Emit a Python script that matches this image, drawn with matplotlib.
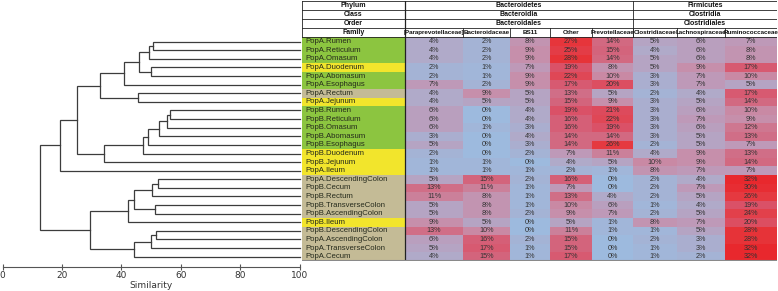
import matplotlib
matplotlib.use('Agg')
import matplotlib.pyplot as plt
from matplotlib.colors import LinearSegmentedColormap, Normalize
from matplotlib.patches import Rectangle

# ---------------- data ----------------
samples = ["PopA.Rumen", "PopA.Reticulum", "PopA.Omasum", "PopA.Duodenum", "PopA.Abomasum",
           "PopA.Esophagus", "PopA.Rectum", "PopA.Jejunum", "PopB.Rumen", "PopB.Reticulum",
           "PopB.Omasum", "PopB.Abomasum", "PopB.Esophagus", "PopB.Duodenum", "PopB.Jejunum",
           "PopA.Ileum", "PopA.DescendingColon", "PopB.Cecum", "PopB.Rectum",
           "PopB.TransverseColon", "PopB.AscendingColon", "PopB.Ileum", "PopB.DescendingColon",
           "PopA.AscendingColon", "PopA.TransverseColon", "PopA.Cecum"]
# gut region of each sample: F = foregut/stomach, S = small intestine, H = hindgut
region = ["F", "F", "F", "S", "F", "F", "H", "S", "F", "F", "F", "F", "F", "S", "S",
          "S", "H", "H", "H", "H", "H", "S", "H", "H", "H", "H"]

header_levels = ["Phylum", "Class", "Order"]
phyla = ["Bacteroidetes", "Firmicutes"]
classes = ["Bacteroidia", "Clostridia"]
orders = ["Bacteroidales", "Clostridiales"]
phylum_span = [5, 3]   # number of families under each phylum
families = ["[Paraprevotellaceae]", "Bacteroidaceae", "BS11", "Other", "Prevotellaceae",
            "Clostridiaceae", "Lachnospiraceae", "Ruminococcaceae"]

paraprevotellaceae = [4, 4, 4, 2, 2, 7, 4, 4, 6, 6, 6, 3, 5, 2, 1, 1, 5, 13, 11, 5, 5, 9, 13, 6, 5, 4]
bacteroidaceae     = [2, 2, 2, 1, 1, 2, 9, 5, 0, 0, 1, 0, 0, 0, 1, 1, 15, 11, 8, 8, 8, 5, 10, 16, 17, 15]
bs11               = [8, 9, 9, 7, 9, 9, 5, 5, 4, 4, 3, 4, 3, 2, 0, 1, 2, 1, 1, 1, 2, 0, 0, 2, 1, 1]
other              = [27, 25, 28, 19, 22, 17, 13, 15, 19, 16, 16, 14, 14, 7, 4, 2, 16, 7, 13, 10, 9, 5, 11, 15, 15, 17]
prevotellaceae     = [14, 15, 14, 8, 10, 20, 5, 9, 21, 22, 19, 14, 26, 11, 5, 1, 0, 0, 4, 6, 7, 1, 1, 0, 0, 0]
clostridiaceae     = [5, 4, 5, 5, 3, 3, 2, 3, 3, 3, 3, 3, 2, 4, 10, 8, 2, 2, 2, 1, 2, 8, 1, 2, 1, 1]
lachnospiraceae    = [6, 6, 6, 9, 7, 7, 4, 5, 6, 7, 6, 5, 5, 9, 9, 7, 4, 7, 5, 4, 5, 7, 5, 3, 3, 2]
ruminococcaceae    = [7, 8, 8, 17, 10, 5, 17, 14, 10, 9, 12, 13, 7, 13, 14, 7, 32, 30, 26, 19, 24, 20, 28, 28, 32, 32]
columns = [paraprevotellaceae, bacteroidaceae, bs11, other, prevotellaceae,
           clostridiaceae, lachnospiraceae, ruminococcaceae]

# dendrogram merges: (child a, child b, similarity); new node ids start at len(samples)
merges = [(0, 1, 50.8), (26, 2, 49.2), (3, 4, 49.8), (27, 28, 45.8), (29, 5, 41.0),
          (6, 7, 45.6), (30, 31, 32.9), (8, 9, 56.2), (33, 10, 55.4), (34, 11, 52.8),
          (35, 12, 49.0), (36, 13, 47.3), (37, 14, 34.2), (32, 38, 25.0), (39, 15, 19.4),
          (16, 17, 52.2), (41, 18, 50.3), (19, 20, 51.2), (42, 43, 44.1), (44, 21, 42.1),
          (22, 23, 51.7), (46, 24, 50.0), (47, 25, 44.1), (45, 48, 29.3), (40, 49, 12.4)]
sim_ticks = [0, 20, 40, 60, 80, 100]

# ---------------- fonts ----------------
TFONT = ["Liberation Sans", "DejaVu Sans"]

# ---------------- layout ----------------
W, H = 778, 291
fig = plt.figure(figsize=(W / 100, H / 100), dpi=100)

ROW_H = 8.6
HEAD_H = 9.1
TABLE_TOP = 1.0
DATA_TOP = TABLE_TOP + 4 * HEAD_H
n = len(samples)
TABLE_BOTTOM = DATA_TOP + n * ROW_H
LABEL_W = 103
col_w = [58, 47, 40, 42, 41, 44, 48, 52]
TABLE_LEFT = 302
TABLE_W = LABEL_W + sum(col_w)

region_colors = {"F": "#8CC540", "S": "#F2E52C", "H": "#C4BB96"}
cmap = LinearSegmentedColormap.from_list("heat", [
    (0.0, "#9DBADE"), (0.0625, "#A4B3D5"), (0.125, "#B0AAC9"), (0.22, "#BE99B8"),
    (0.31, "#C98AA5"), (0.41, "#D06D86"), (0.59, "#DA5268"), (0.84, "#E6363C"),
    (1.0, "#E8282D")])
norm = Normalize(0, 32)

# ---------------- dendrogram ----------------
AX_BOTTOM_PX = 266.7
dtop = DATA_TOP
ax = fig.add_axes([2.7 / W, (H - AX_BOTTOM_PX) / H, (299.5 - 2.7) / W, (AX_BOTTOM_PX - dtop) / H])
ax.set_xlim(0, 100)
ax.set_ylim((AX_BOTTOM_PX - dtop) / ROW_H - 0.5, -0.5)
pos = {i: (100.0, float(i)) for i in range(n)}
lc = "#3c3c3c"
for k, (a, b, h) in enumerate(merges):
    xa, ya = pos[a]
    xb, yb = pos[b]
    ax.plot([xa, h, h, xb], [ya, ya, yb, yb], color=lc, lw=0.9, clip_on=False,
            solid_joinstyle="miter")
    pos[n + k] = (h, (ya + yb) / 2)
for s in ["left", "top", "right"]:
    ax.spines[s].set_visible(False)
ax.spines["bottom"].set_color("#555555")
ax.spines["bottom"].set_linewidth(0.8)
ax.set_yticks([])
ax.set_xticks(sim_ticks)
ax.tick_params(axis="x", direction="inout", length=5, width=0.8, color="#555555",
               labelsize=6.5, labelcolor="#333333", pad=0.8)
ax.set_xlabel("Similarity", fontsize=6.5, color="#333333", labelpad=0.5)
ax.patch.set_visible(False)

# ---------------- table ----------------
tx = fig.add_axes([TABLE_LEFT / W, (H - TABLE_BOTTOM) / H, TABLE_W / W, (TABLE_BOTTOM - TABLE_TOP) / H])
tx.set_xlim(0, TABLE_W)
tx.set_ylim(TABLE_BOTTOM - TABLE_TOP, 0)
tx.axis("off")
y0 = DATA_TOP - TABLE_TOP
col_x = [LABEL_W]
for w in col_w:
    col_x.append(col_x[-1] + w)

txt = dict(fontsize=5.2, color="#333333", va="center", family=TFONT)
for i, name in enumerate(samples):
    y = y0 + i * ROW_H
    tx.add_patch(Rectangle((0, y), LABEL_W, ROW_H, facecolor=region_colors[region[i]],
                           edgecolor="none"))
    tx.text(3, y + ROW_H / 2, name, ha="left", fontsize=5.6, color="#252a1c", va="center",
            family=TFONT)
    for j, col in enumerate(columns):
        v = col[i]
        tx.add_patch(Rectangle((col_x[j], y), col_w[j], ROW_H, facecolor=cmap(norm(v)),
                               edgecolor="none"))
        tx.text(col_x[j] + col_w[j] / 2, y + ROW_H / 2, f"{v}%", ha="center", **txt)

# header
hd = dict(fontweight="bold", color="#111111", va="center", ha="center", family=TFONT)
for r, lab in enumerate(header_levels + ["Family"]):
    tx.text(LABEL_W / 2, (r + 0.5) * HEAD_H, lab, fontsize=5.0, **hd)
split = col_x[phylum_span[0]]
for r, labs in enumerate([phyla, classes, orders]):
    tx.text((LABEL_W + split) / 2, (r + 0.5) * HEAD_H, labs[0], fontsize=5.0, **hd)
    tx.text((split + TABLE_W) / 2, (r + 0.5) * HEAD_H, labs[1], fontsize=5.0, **hd)
for j, fam in enumerate(families):
    tx.text(col_x[j] + col_w[j] / 2, 3.5 * HEAD_H, fam, fontsize=4.5, **hd)

bl = dict(color="#222222", lw=0.6)
for r in range(5):
    tx.plot([0, TABLE_W], [r * HEAD_H, r * HEAD_H], **bl)
tx.plot([0, 0], [0, 4 * HEAD_H], **bl)
tx.plot([TABLE_W, TABLE_W], [0, 4 * HEAD_H], **bl)
tx.plot([split, split], [0, 4 * HEAD_H], **bl)
for xx in col_x[1:-1]:
    tx.plot([xx, xx], [3 * HEAD_H, 4 * HEAD_H], **bl)
tx.plot([LABEL_W, LABEL_W], [0, TABLE_BOTTOM - TABLE_TOP], color="#222222", lw=0.9)
tx.plot([0, TABLE_W], [TABLE_BOTTOM - TABLE_TOP] * 2, color="#8a8a8a", lw=1.5)

fig.savefig("out.png", dpi=100)
